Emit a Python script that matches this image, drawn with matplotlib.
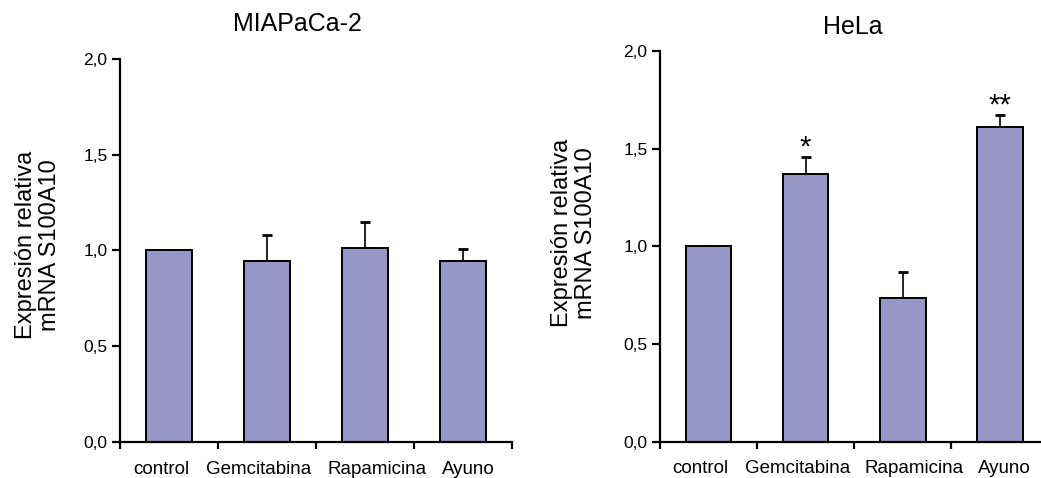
import matplotlib
matplotlib.use("Agg")
import matplotlib.pyplot as plt
import matplotlib.transforms as mtransforms
import numpy as np

plt.rcParams['font.family'] = ['Liberation Sans', 'DejaVu Sans']

categories = ["control", "Gemcitabina", "Rapamicina", "Ayuno"]

mia_values = [1.0, 0.947, 1.015, 0.947]
mia_errors = [0.0, 0.136, 0.135, 0.061]

hela_values = [1.0, 1.369, 0.737, 1.613]
hela_errors = [0.0, 0.090, 0.133, 0.060]
hela_marks = ["", "*", "", "**"]

y_ticks = [0.0, 0.5, 1.0, 1.5, 2.0]
y_ticklabels = ["0,0", "0,5", "1,0", "1,5", "2,0"]

bar_color = "#9796c6"
ylabel = "Expresión relativa\nmRNA S100A10"

# horizontal nudges (points) for the category labels
label_shift = [-5.8, -6.0, 8.3, 3.6]

fig = plt.figure(figsize=(10.41, 4.78), dpi=100)
ax1 = fig.add_axes([0.1153, 0.0753, 0.3769, 0.8013])
ax2 = fig.add_axes([0.634, 0.0759, 0.3731, 0.8174])


def draw_panel(ax, values, errors, label_xy, marks=None):
    x = np.arange(len(categories)) + 0.5
    ax.bar(x, values, width=0.47, color=bar_color, edgecolor="black",
           linewidth=1.4, zorder=2)
    ax.errorbar(x, values, yerr=[np.zeros(len(errors)), errors], fmt="none",
                ecolor="black", elinewidth=1.2, capsize=3.4, capthick=2.0,
                zorder=1)
    if marks:
        for xi, v, e, m in zip(x, values, errors, marks):
            if m:
                ax.text(xi, v + e + 0.005, m, ha="center", va="baseline",
                        fontsize=21)
    ax.set_xlim(0, len(categories))
    ax.set_ylim(0, 2.0)
    ax.set_yticks(y_ticks)
    ax.set_yticklabels(y_ticklabels)
    ax.set_xticks(np.arange(len(categories) + 1))
    ax.set_xticklabels([])
    ax.set_xticks(x, minor=True)
    ax.set_xticklabels(categories, minor=True)
    ax.tick_params(axis="x", which="minor", length=0, pad=13.5,
                   labelsize=13.5)
    ax.tick_params(axis="x", which="major", length=5, width=1.6,
                   direction="out")
    ax.tick_params(axis="y", length=6, width=1.6, labelsize=12.5, pad=3)
    for lab, dx in zip(ax.get_xticklabels(minor=True), label_shift):
        lab.set_transform(lab.get_transform() + mtransforms.ScaledTranslation(
            dx / 72, 0, fig.dpi_scale_trans))
    for side in ("top", "right"):
        ax.spines[side].set_visible(False)
    for side in ("left", "bottom"):
        ax.spines[side].set_linewidth(1.6)
    ax.set_ylabel(ylabel, fontsize=17, linespacing=1.15)
    ax.yaxis.label.set_verticalalignment("center")
    ax.yaxis.set_label_coords(*label_xy)


draw_panel(ax1, mia_values, mia_errors, (-0.209, 0.514))
draw_panel(ax2, hela_values, hela_errors, (-0.221, 0.535), hela_marks)

fig.text(297 / 1041, 1 - 24 / 478, "MIAPaCa-2", ha="center", va="center",
         fontsize=18)
fig.text(853 / 1041, 1 - 26.5 / 478, "HeLa", ha="center", va="center",
         fontsize=18)

fig.savefig("out.png", dpi=100)
